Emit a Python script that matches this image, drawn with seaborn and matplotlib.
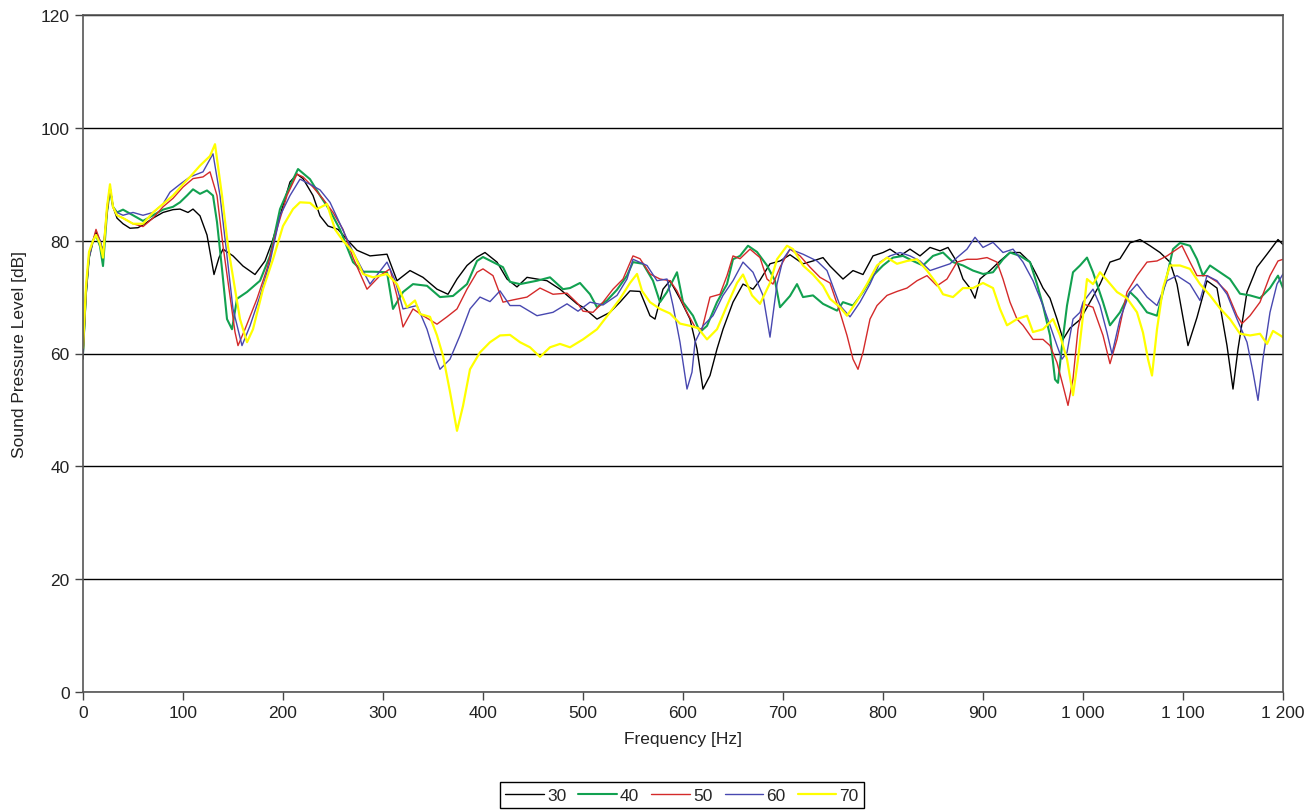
import pandas as pd
import matplotlib
matplotlib.use("Agg")
import matplotlib.pyplot as plt
from matplotlib.ticker import FuncFormatter, MultipleLocator
import seaborn as sns

# --- readings (frequency [Hz], level [dB]) per microphone distance ---
curve_30 = [(0, 59), (3, 70), (6, 77), (10, 80), (13, 81.5), (17, 80), (20, 78), (24, 85), (27, 89.5),
            (30, 86), (34, 84), (40, 83), (47, 82.2), (55, 82.3), (62, 83), (70, 84), (80, 85), (90, 85.5),
            (97, 85.6), (105, 85), (110, 85.6), (117, 84.4), (124, 81), (131, 74), (136, 77), (140, 78.5),
            (150, 77.3), (160, 75.5), (172, 74), (182, 76.4), (189, 79.7), (197, 84.4), (207, 90.4),
            (214, 91.8), (220, 91), (230, 88), (237, 84.4), (245, 82.6), (255, 82), (265, 80), (274, 78.3),
            (287, 77.3), (304, 77.6), (314, 72.9), (327, 74.7), (340, 73.5), (354, 71.4), (365, 70.5),
            (374, 73.2), (384, 75.6), (394, 77.1), (402, 77.9), (414, 76.2), (424, 73.2), (434, 71.8),
            (444, 73.5), (464, 72.9), (477, 71.4), (494, 68.8), (500, 68.2), (514, 66.1), (527, 67.3),
            (537, 69.1), (547, 71.1), (557, 71), (567, 66.7), (572, 66.1), (580, 71.4), (587, 72.9),
            (597, 69.7), (607, 66.1), (614, 60.8), (620, 53.7), (627, 56.1), (634, 60.8), (640, 64.3),
            (650, 69.1), (660, 72.3), (670, 71.4), (677, 73), (687, 75.9), (697, 76.4), (707, 77.5),
            (720, 75.9), (730, 76.4), (740, 77), (747, 75.5), (760, 73.2), (770, 74.7), (780, 74),
            (790, 77.3), (800, 77.9), (807, 78.5), (817, 77.3), (827, 78.5), (837, 77.3), (847, 78.8),
            (857, 78.2), (865, 78.8), (874, 76.2), (880, 73.2), (887, 71.6), (892, 69.8), (897, 73.2),
            (907, 74.7), (917, 76.4), (927, 77.9), (937, 77.9), (947, 76.2), (954, 73.8), (960, 71.6),
            (967, 69.8), (974, 66.1), (980, 62.5), (987, 64.5), (997, 66), (1007, 69.1), (1017, 72.3),
            (1027, 76.2), (1037, 76.8), (1047, 79.6), (1057, 80.2), (1067, 79.1), (1077, 77.9),
            (1087, 76.2), (1094, 72.3), (1100, 66.4), (1105, 61.4), (1114, 66.4), (1124, 72.9),
            (1134, 71.6), (1144, 61.4), (1150, 53.7), (1155, 60.8), (1164, 70.9), (1174, 75.3),
            (1184, 77.6), (1195, 80.2), (1200, 79.3)]

curve_40 = [(0, 60), (3, 71), (6, 77), (10, 80), (13, 81), (17, 79), (20, 75.5), (24, 85), (27, 89),
            (30, 86), (34, 85), (40, 85.5), (50, 84.5), (60, 83.5), (70, 84.5), (80, 85.5), (90, 86),
            (97, 86.8), (104, 88), (110, 89.1), (117, 88.3), (124, 88.9), (130, 88), (134, 83.3),
            (139, 75), (144, 66.1), (149, 64.3), (154, 69.7), (164, 70.9), (177, 72.9), (187, 77.3),
            (197, 85.6), (207, 89.7), (215, 92.7), (227, 90.9), (237, 88), (247, 85.3), (257, 82),
            (270, 76.2), (280, 74.5), (290, 74.5), (304, 74.4), (310, 67.9), (320, 70.9), (330, 72.3),
            (344, 72), (357, 70), (370, 70.2), (384, 72.3), (394, 76.4), (400, 77.1), (410, 76.2),
            (420, 75.3), (427, 72.7), (437, 72.3), (454, 72.9), (467, 73.5), (480, 71.4), (487, 71.6),
            (497, 72.5), (507, 70.5), (514, 68.2), (524, 69.4), (534, 71.3), (544, 73.8), (550, 76.2),
            (560, 75.9), (570, 72.9), (577, 69.1), (584, 70.9), (594, 74.4), (600, 69.1), (610, 66.7),
            (617, 63.8), (624, 64.9), (634, 69.1), (644, 72.3), (650, 76.7), (657, 77.3), (665, 79.1),
            (674, 78), (684, 75.6), (692, 72.9), (697, 68.2), (707, 70.2), (714, 72.3), (720, 70),
            (730, 70.3), (740, 68.8), (747, 68.2), (754, 67.6), (760, 69.1), (770, 68.5), (780, 70.9),
            (790, 73.8), (800, 75.6), (810, 77), (820, 77.3), (830, 76.4), (840, 75.6), (850, 77.3),
            (860, 77.9), (870, 76.2), (880, 75.6), (890, 74.7), (900, 74.1), (910, 74.4), (920, 76.7),
            (927, 77.9), (937, 77.3), (947, 76.2), (954, 72.3), (960, 68.5), (967, 63.2), (972, 55.4),
            (975, 54.8), (979, 61.4), (984, 68.5), (990, 74.4), (997, 75.6), (1004, 77), (1010, 74.4),
            (1020, 69.1), (1027, 65), (1037, 67.3), (1047, 70.9), (1054, 69.7), (1064, 67.3),
            (1074, 66.7), (1084, 73.8), (1090, 78.5), (1097, 79.6), (1107, 79.1), (1114, 76.7),
            (1120, 73.8), (1127, 75.6), (1137, 74.4), (1147, 73.2), (1157, 70.6), (1167, 70.3),
            (1177, 69.8), (1187, 71.6), (1195, 73.8), (1200, 71.6)]

curve_50 = [(0, 60), (3, 71), (6, 77), (10, 80), (13, 82), (17, 80), (20, 77.5), (24, 85), (27, 89.5),
            (30, 86), (34, 84.5), (40, 84), (50, 83), (60, 82.5), (70, 84), (80, 86), (90, 87.5),
            (100, 89.5), (110, 91), (120, 91.3), (127, 92.2), (134, 88), (140, 79.1), (147, 70.2),
            (152, 63.8), (155, 61.4), (162, 64.3), (174, 69.7), (184, 75), (194, 82.1), (204, 88),
            (214, 91.8), (220, 91.3), (230, 89.5), (240, 87.4), (250, 85), (260, 82), (270, 77),
            (284, 71.4), (297, 73.8), (307, 75), (314, 70.2), (320, 64.7), (330, 67.9), (340, 66.7),
            (354, 65.2), (364, 66.5), (374, 67.9), (384, 71.4), (394, 74.4), (400, 75), (410, 73.8),
            (420, 69.1), (430, 69.5), (444, 70), (457, 71.6), (470, 70.5), (484, 70.7), (495, 68.8),
            (500, 67.5), (510, 67.3), (520, 69.1), (530, 71.4), (540, 73.2), (550, 77.3), (557, 76.8),
            (567, 74.1), (577, 73.2), (587, 72.9), (594, 71.1), (604, 67.3), (612, 64.7), (619, 64.3),
            (627, 70), (637, 70.5), (644, 73.8), (650, 77.3), (657, 76.8), (667, 78.5), (677, 77),
            (684, 73.2), (690, 72.3), (697, 75.3), (707, 78.5), (717, 77.3), (727, 75.3), (737, 73.5),
            (747, 72.5), (757, 67.3), (764, 63.2), (770, 59), (775, 57.2), (780, 60.2), (787, 66.1),
            (794, 68.5), (804, 70.3), (814, 71), (824, 71.6), (834, 72.9), (844, 73.8), (854, 72),
            (864, 73.2), (874, 76.2), (884, 76.7), (894, 76.7), (904, 77), (914, 76.2), (920, 73.2),
            (927, 69.1), (934, 66.1), (940, 65), (950, 62.5), (960, 62.5), (967, 61.4), (974, 58.4),
            (980, 54.3), (985, 50.8), (990, 55.5), (995, 64.3), (1000, 68.8), (1010, 68.2),
            (1020, 63.2), (1027, 58.2), (1034, 62.5), (1044, 70.9), (1054, 73.8), (1064, 76.2),
            (1074, 76.4), (1084, 77.3), (1094, 78.5), (1099, 79.1), (1107, 76.2), (1114, 73.8),
            (1124, 73.8), (1134, 72.7), (1144, 70.9), (1154, 66.7), (1159, 65.3), (1167, 66.7),
            (1177, 69.1), (1187, 73.8), (1195, 76.4), (1200, 76.7)]

curve_60 = [(0, 60), (3, 71), (6, 77), (10, 80), (13, 81), (17, 80), (20, 78), (24, 86), (27, 89.5),
            (30, 86), (34, 85), (40, 84.5), (50, 85), (60, 84.5), (70, 85), (80, 86.5), (87, 88.6),
            (97, 90), (107, 91.3), (120, 92.2), (130, 95.4), (137, 88), (144, 77.3), (150, 67.9),
            (159, 61.4), (167, 64.9), (177, 70.2), (187, 76.2), (197, 84.4), (207, 88), (217, 90.9),
            (227, 90), (237, 89), (247, 86.8), (257, 83), (270, 78), (287, 72.3), (304, 76.2), (312, 73),
            (320, 67.9), (334, 68.5), (344, 64.3), (352, 59.6), (357, 57.2), (367, 59), (377, 63.2),
            (387, 67.9), (397, 70), (407, 69.2), (417, 71.1), (427, 68.5), (437, 68.5), (454, 66.7),
            (470, 67.3), (484, 68.8), (495, 67.5), (507, 69.1), (520, 68.6), (534, 70.3), (544, 73.2),
            (550, 76.7), (564, 75.6), (574, 72.9), (584, 73.2), (590, 68.5), (597, 62), (604, 53.7),
            (609, 56.7), (612, 62), (620, 64.9), (630, 66.7), (640, 70.3), (650, 72.9), (660, 76.2),
            (670, 74.4), (680, 70.3), (687, 62.9), (694, 72.3), (700, 76.7), (707, 78.5), (720, 77.6),
            (734, 76.4), (744, 74.7), (757, 68.5), (767, 66.5), (777, 69.1), (787, 72.3), (797, 76.2),
            (807, 77.3), (817, 77.9), (827, 77.3), (837, 76.4), (847, 74.7), (857, 75.3), (867, 75.9),
            (874, 77), (884, 78.5), (892, 80.6), (900, 78.8), (910, 79.7), (920, 77.9), (930, 78.5),
            (940, 76.2), (950, 72.9), (960, 68.5), (967, 65), (974, 61.4), (979, 59), (984, 60.2),
            (990, 66.1), (997, 67.3), (1000, 69.1), (1010, 71.4), (1017, 68.5), (1024, 63.7),
            (1029, 59.9), (1037, 66.1), (1047, 70.9), (1054, 72.3), (1064, 70), (1074, 68.5),
            (1084, 72.9), (1094, 73.8), (1107, 72.3), (1117, 69.4), (1124, 73.8), (1134, 72.9),
            (1144, 70.5), (1154, 66.1), (1164, 62), (1170, 56.7), (1175, 51.7), (1180, 59.1),
            (1187, 67.3), (1194, 72.3), (1200, 74.1)]

curve_70 = [(0, 61), (3, 72), (6, 78), (10, 80), (13, 81), (17, 79.5), (20, 77), (24, 86), (27, 90),
            (30, 86), (34, 84.5), (40, 84), (50, 83), (60, 83), (70, 85), (80, 86.5), (90, 88), (100, 90),
            (107, 91.3), (117, 93.3), (127, 95), (132, 97.1), (139, 88), (145, 79), (152, 71.4),
            (157, 66.1), (164, 62), (170, 64.3), (180, 71.4), (190, 76.7), (200, 82.6), (210, 85.6),
            (217, 86.8), (227, 86.7), (234, 85.6), (244, 86.5), (252, 82), (260, 80), (270, 78),
            (280, 74.1), (290, 73.5), (304, 74.1), (314, 72.3), (324, 68.2), (332, 69.4), (337, 67),
            (347, 66.5), (354, 63.2), (360, 59.6), (367, 53.2), (374, 46.3), (380, 50.7), (387, 57.2),
            (397, 60.2), (407, 62), (417, 63.2), (427, 63.3), (437, 62), (447, 61.1), (457, 59.4),
            (467, 61.1), (477, 61.7), (487, 61.1), (500, 62.5), (514, 64.3), (527, 67.3), (537, 69.7),
            (547, 72.5), (554, 74.1), (559, 71.1), (567, 69.1), (577, 67.9), (587, 67.1), (597, 65.3),
            (607, 64.9), (615, 64.5), (624, 62.5), (634, 64.3), (644, 68.5), (654, 72.5), (660, 74),
            (669, 70.3), (677, 68.8), (687, 72.5), (694, 76.7), (704, 79.1), (710, 78.5), (720, 75.6),
            (730, 74), (740, 72), (747, 69.7), (757, 68.2), (764, 66.7), (774, 69.3), (784, 72.3),
            (794, 75.6), (804, 77), (814, 75.9), (824, 76.4), (834, 76.7), (844, 74.7), (854, 72.3),
            (860, 70.5), (870, 70), (880, 71.6), (890, 71.6), (900, 72.5), (910, 71.6), (917, 67.9),
            (924, 65), (934, 66.1), (944, 66.7), (950, 63.8), (960, 64.3), (970, 66.1), (977, 63.2),
            (984, 59), (990, 52.6), (995, 59), (1000, 66.7), (1004, 73.2), (1010, 72.3), (1017, 74.4),
            (1024, 73), (1034, 70.9), (1044, 69.8), (1054, 67.3), (1060, 63.7), (1065, 59), (1069, 56.1),
            (1074, 64.3), (1080, 71.6), (1087, 75.6), (1097, 75.6), (1107, 75), (1117, 72.3),
            (1127, 70.3), (1137, 68), (1147, 66.1), (1157, 63.5), (1167, 63.2), (1177, 63.5),
            (1184, 61.7), (1190, 64), (1200, 62.9)]

series_names = ["30", "40", "50", "60", "70"]
curves = [curve_30, curve_40, curve_50, curve_60, curve_70]
palette = {"30": "#000000", "40": "#12a150", "50": "#d42a2a", "60": "#4848b0", "70": "#ffff00"}
widths = {"30": 1.0, "40": 1.5, "50": 1.0, "60": 1.0, "70": 1.6}

rows = []
for name, pts in zip(series_names, curves):
    for f, v in pts:
        rows.append({"Frequency": f, "SPL": v, "Series": name})
df = pd.DataFrame(rows)

# --- plot ---
sns.set_style("white")
plt.rcParams["font.family"] = ["Liberation Sans", "DejaVu Sans"]

fig = plt.figure(figsize=(13.15, 8.12), dpi=100)
ax = fig.add_axes([83 / 1315, 1 - 693 / 812, 1200 / 1315, 677 / 812])

sns.lineplot(data=df, x="Frequency", y="SPL", hue="Series", hue_order=series_names,
             palette=palette, estimator=None, sort=False, ax=ax)
for line, name in zip(ax.lines, series_names):
    line.set_linewidth(widths[name])

ax.set_xlim(0, 1200)
ax.set_ylim(0, 120)
ax.xaxis.set_major_locator(MultipleLocator(100))
ax.yaxis.set_major_locator(MultipleLocator(20))
ax.xaxis.set_major_formatter(FuncFormatter(lambda v, p: f"{int(v):,}".replace(",", " ")))
ax.grid(axis="y", color="black", linewidth=1.0)
ax.grid(axis="x", visible=False)
ax.set_axisbelow(True)
ax.tick_params(axis="both", direction="out", length=6, width=1, color="#444444",
               labelsize=12.5, labelcolor="#222222", bottom=True, left=True)
for side in ["left", "bottom", "right", "top"]:
    ax.spines[side].set_visible(True)
    ax.spines[side].set_color("#555555")
    ax.spines[side].set_linewidth(1.2)
ax.set_xlabel("Frequency [Hz]", fontsize=12.5, color="#222222", labelpad=8)
ax.set_ylabel("Sound Pressure Level [dB]", fontsize=12.5, color="#222222", labelpad=10)

ax.get_legend().remove()
handles = ax.lines[:5]
fig.legend(handles, series_names, loc="center", bbox_to_anchor=(682 / 1315, 1 - 796 / 812),
           ncol=5, frameon=True, fancybox=False, edgecolor="black", fontsize=12.5,
           handlelength=2.2, handletextpad=0.2, columnspacing=0.7, borderpad=0.3,
           borderaxespad=0.2, framealpha=1)

fig.savefig("out.png", dpi=100)
